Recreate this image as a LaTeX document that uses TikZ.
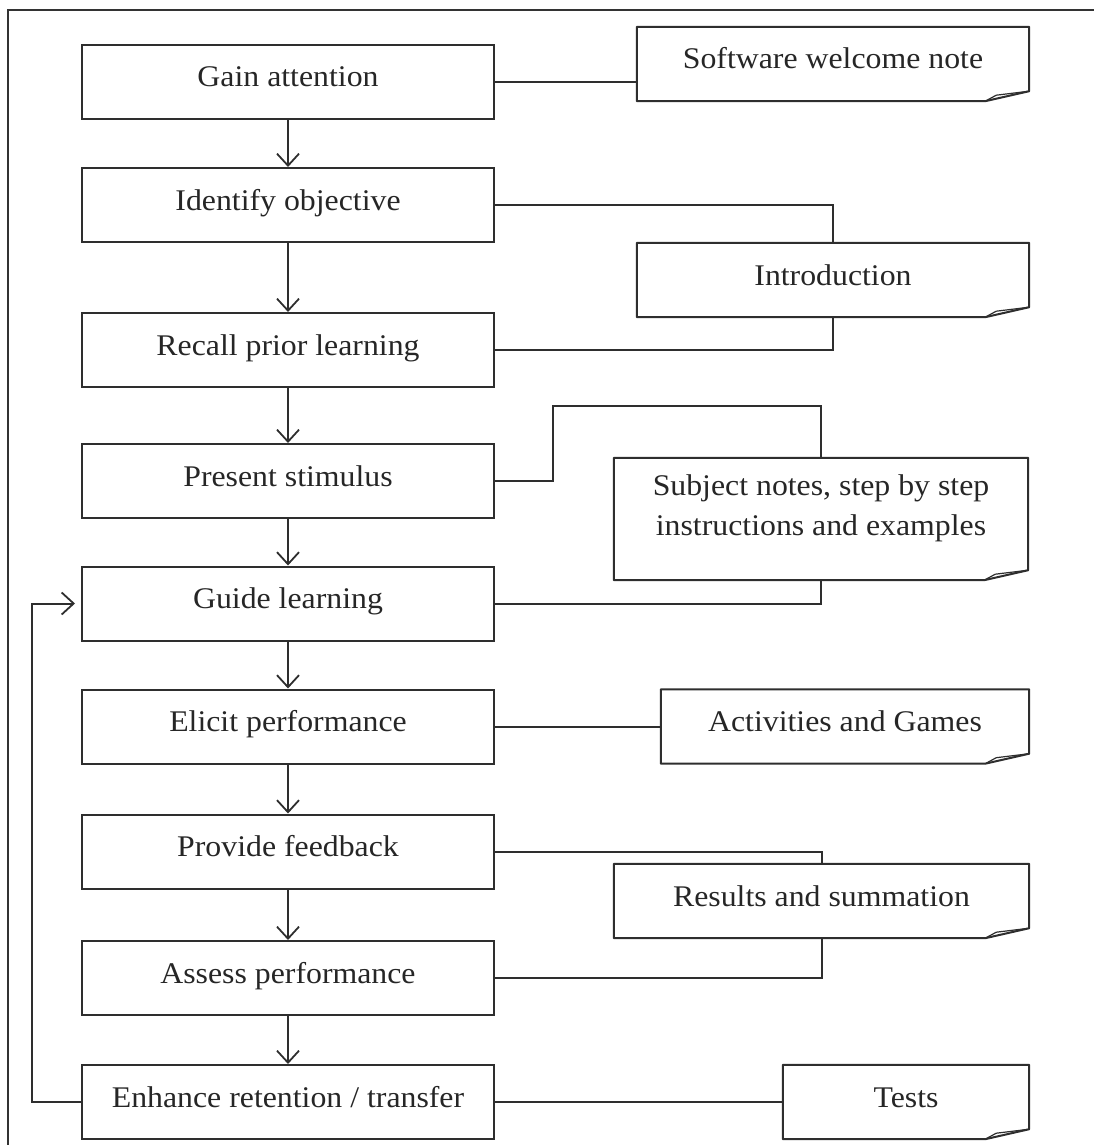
\documentclass[tikz,border=0pt]{standalone}
\usepackage{fontspec}
\setmainfont{Liberation Serif}[FakeStretch=1.06]
\usetikzlibrary{arrows.meta,calc}
\begin{document}
\begin{tikzpicture}[x=1pt,y=-1pt,
  ln/.style={draw=black!82, line width=2pt},
  txt/.style={font=\fontsize{30}{40}\selectfont, text=black!85},
  stepbox/.style={ln, txt, rectangle, minimum width=412pt, inner xsep=0pt, inner ysep=0pt, text height=42pt, text depth=32pt},
  notebox/.style={txt, rectangle, inner xsep=0pt, inner ysep=0pt, text height=42pt, text depth=32pt, align=center},
  conn/.style={draw=black!82, line width=2pt},
  arr/.style={conn, -{Straight Barb[length=12pt,width=22pt,line width=1.8pt]}},
  fold/.style={draw=black!82, line width=1.2pt}
]
\useasboundingbox (0,0) rectangle (1095,1145);
% outer frame (cut at right and bottom)
\draw[draw=black!80, line width=1.5pt] (8,1145) -- (8,10) -- (1094,10);

% main steps
\node[stepbox] (gain)   at (288,82)   {Gain attention};
\node[stepbox] (ident)  at (288,205)  {Identify objective};
\node[stepbox] (recall) at (288,350)  {Recall prior learning};
\node[stepbox] (pres)   at (288,481)  {Present stimulus};
\node[stepbox] (guide)  at (288,603.5){Guide learning};
\node[stepbox] (elicit) at (288,726.5){Elicit performance};
\node[stepbox] (prov)   at (288,851.5){Provide feedback};
\node[stepbox] (assess) at (288,978)  {Assess performance};
\node[stepbox] (enh)    at (288,1102) {Enhance retention / transfer};

% notes
\node[notebox, minimum width=392pt] (soft)  at (833,64)  {Software welcome note};
\node[notebox, minimum width=392pt] (intro) at (833,280) {Introduction};
\node[notebox, minimum width=414pt, text height=77pt, text depth=45pt] (subj) at (821,519)
  {Subject notes, step by step\\instructions and examples};
\node[notebox, minimum width=368pt] (act)   at (845,726.5) {Activities and Games};
\node[notebox, minimum width=415pt] (res)   at (821.5,901) {Results and summation};
\node[notebox, minimum width=246pt] (tests) at (906,1102) {Tests};

\foreach \n in {soft,intro,subj,act,res,tests}{
  \draw[ln, line join=round] (\n.north west) -- (\n.north east) -- ([yshift=10pt]\n.south east)
     -- ([xshift=-44pt]\n.south east) -- (\n.south west) -- cycle;
  \draw[fold] ([xshift=-44pt]\n.south east) -- ([xshift=-33pt,yshift=6pt]\n.south east)
     -- ([yshift=10pt]\n.south east);
}

% vertical flow arrows
\draw[arr] (gain) -- (ident);
\draw[arr] (ident) -- (recall);
\draw[arr] (recall) -- (pres);
\draw[arr] (pres) -- (guide);
\draw[arr] (guide) -- (elicit);
\draw[arr] (elicit) -- (prov);
\draw[arr] (prov) -- (assess);
\draw[arr] (assess) -- (enh);

% feedback loop
\coordinate (loopx) at (32,1102);
\draw[arr, shorten >=6pt] (enh.west) -- (loopx) |- (guide.west);

% connectors to notes
\draw[conn] (gain.east) -- (gain.east -| soft.west);
\draw[conn] (ident.east) -| (intro.north);
\draw[conn] (recall.east) -| (intro.south);
\coordinate (elbow) at (553,406);
\draw[conn] (pres.east) -| (elbow) -| (subj.north);
\draw[conn] (guide.east) -| (subj.south);
\draw[conn] (elicit.east) -- (elicit.east -| act.west);
\draw[conn] (prov.east) -| (res.north);
\draw[conn] (assess.east) -| (res.south);
\draw[conn] (enh.east) -- (enh.east -| tests.west);
\end{tikzpicture}
\end{document}
